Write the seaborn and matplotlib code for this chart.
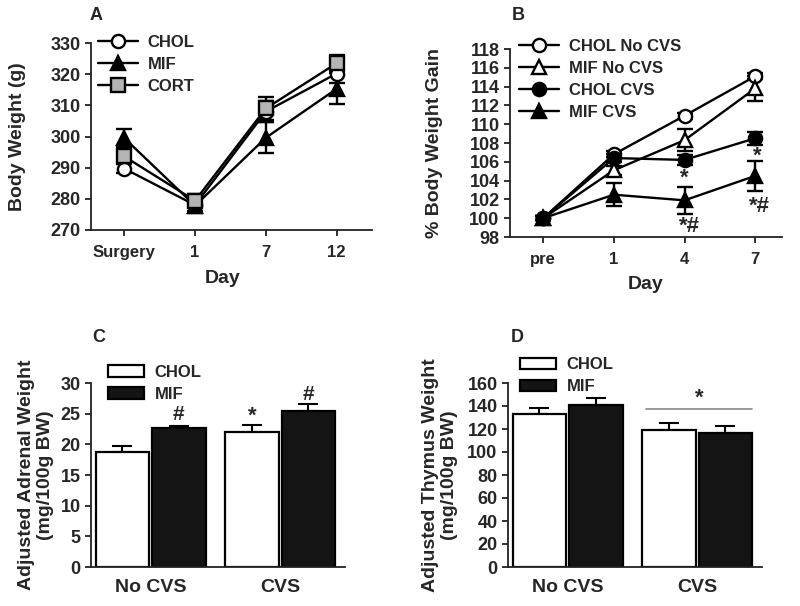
import numpy as np
import pandas as pd
import matplotlib
matplotlib.use("Agg")
import matplotlib.pyplot as plt
import seaborn as sns
from matplotlib.patches import Patch

# ---------------- data ----------------
days_a = ["Surgery", "1", "7", "12"]
chol_a = [289.7, 278.0, 308.0, 320.2]
chol_a_err = [1.5, 2.0, 3.5, 3.0]
mif_a = [299.5, 277.8, 299.6, 315.3]
mif_a_err = [3.0, 2.5, 5.0, 5.0]
cort_a = [293.6, 279.4, 309.0, 323.5]
cort_a_err = [2.0, 2.0, 3.7, 2.7]

days_b = ["pre", "1", "4", "7"]
chol_nocvs_b = [100.0, 106.8, 110.9, 115.1]
chol_nocvs_b_err = [0.2, 0.3, 0.3, 0.3]
mif_nocvs_b = [100.0, 105.1, 108.3, 113.8]
mif_nocvs_b_err = [0.2, 0.5, 1.2, 1.3]
chol_cvs_b = [100.0, 106.4, 106.2, 108.5]
chol_cvs_b_err = [0.2, 0.4, 0.5, 0.7]
mif_cvs_b = [100.0, 102.5, 101.9, 104.5]
mif_cvs_b_err = [0.2, 1.2, 1.4, 1.6]

conds = ["No CVS", "CVS"]
drugs = ["CHOL", "MIF"]
adrenal_chol = [18.8, 22.0]
adrenal_chol_err = [0.9, 1.2]
adrenal_mif = [22.6, 25.4]
adrenal_mif_err = [0.4, 1.1]
thymus_chol = [133.0, 119.5]
thymus_chol_err = [5.0, 5.5]
thymus_mif = [141.0, 116.3]
thymus_mif_err = [6.0, 6.5]

# ---------------- style ----------------
sns.set_style("ticks")
plt.rcParams["font.family"] = ["Liberation Sans", "DejaVu Sans"]
plt.rcParams["font.weight"] = "bold"
plt.rcParams["axes.labelweight"] = "bold"
plt.rcParams["axes.linewidth"] = 1.3
plt.rcParams["axes.edgecolor"] = "#222222"

fig = plt.figure(figsize=(8.0, 6.06), dpi=100)
W, H = 800, 606


def px_axes(l, t, r, b):
    return fig.add_axes([l / W, 1 - b / H, (r - l) / W, (b - t) / H])


axA = px_axes(91, 43, 372, 230)
axB = px_axes(510, 49, 782, 237)
axC = px_axes(91, 383, 345, 567)
axD = px_axes(508, 383, 762, 567)

LW = 1.7
MS = 9.5


def style_axes(ax):
    sns.despine(ax=ax)
    ax.tick_params(axis="both", direction="out", length=4, width=1.3,
                   color="#222222")
    ax.tick_params(axis="x", labelsize=12)
    ax.tick_params(axis="y", labelsize=13)
    for lab in ax.get_xticklabels() + ax.get_yticklabels():
        lab.set_fontweight("bold")


def line_panel(ax, cats, series, errs, styles):
    x = np.arange(len(cats))
    handles = []
    for vals, err, st in zip(series, errs, styles):
        ax.errorbar(x, vals, yerr=err, fmt="none", ecolor="black",
                    elinewidth=LW, capsize=6, capthick=LW, zorder=2)
        sns.lineplot(x=x, y=vals, ax=ax, color="black", lw=LW,
                     marker=st[0], markersize=MS, markerfacecolor=st[1],
                     markeredgecolor="black", markeredgewidth=LW,
                     zorder=3, legend=False)
        handles.append(ax.lines[-1])
    ax.set_xticks(x)
    ax.set_xticklabels(cats)
    return handles


# ---------------- Panel A ----------------
labels_a = ["CHOL", "MIF", "CORT"]
hA = line_panel(axA, days_a, [chol_a, mif_a, cort_a],
                [chol_a_err, mif_a_err, cort_a_err],
                [("o", "white"), ("^", "black"), ("s", "#b4b4b4")])
axA.set_ylim(270, 330)
axA.set_yticks(np.arange(270, 331, 10))
axA.set_xlim(-0.47, 3.5)
style_axes(axA)
axA.tick_params(axis="x", pad=7)
axA.set_xlabel("Day", fontsize=14, va="center")
axA.xaxis.set_label_coords(0.47, -0.262)
axA.set_ylabel("Body Weight (g)", fontsize=14, va="center")
axA.yaxis.set_label_coords(-0.263, 0.5)
axA.legend(hA, labels_a, loc="upper left",
           bbox_to_anchor=(0.0, 1.08), frameon=False, fontsize=12,
           handlelength=2.4, handletextpad=0.6, labelspacing=0.42,
           borderaxespad=0)

# ---------------- Panel B ----------------
labels_b = ["CHOL No CVS", "MIF No CVS", "CHOL CVS", "MIF CVS"]
hB = line_panel(axB, days_b,
                [chol_nocvs_b, mif_nocvs_b, chol_cvs_b, mif_cvs_b],
                [chol_nocvs_b_err, mif_nocvs_b_err, chol_cvs_b_err, mif_cvs_b_err],
                [("o", "white"), ("^", "white"), ("o", "black"), ("^", "black")])
axB.set_ylim(98, 118)
axB.set_yticks(np.arange(98, 119, 2))
axB.set_xlim(-0.47, 3.38)
style_axes(axB)
axB.tick_params(axis="x", pad=7)
axB.set_xlabel("Day", fontsize=14, va="center")
axB.xaxis.set_label_coords(0.5, -0.255)
axB.set_ylabel("% Body Weight Gain", fontsize=14, va="center")
axB.yaxis.set_label_coords(-0.276, 0.5)
axB.legend(hB, labels_b, loc="upper left", bbox_to_anchor=(0.01, 1.09),
           frameon=False, fontsize=12, handlelength=2.4, handletextpad=0.6,
           labelspacing=0.42, borderaxespad=0)
# significance marks
axB.text(2, 104.3, "*", ha="center", va="center", fontsize=16)
axB.text(2.07, 99.1, "*#", ha="center", va="center", fontsize=16)
axB.text(3.03, 106.6, "*", ha="center", va="center", fontsize=16)
axB.text(3.06, 101.2, "*#", ha="center", va="center", fontsize=16)


# ---------------- Bar panels ----------------
def bar_panel(ax, chol, chol_err, mif, mif_err):
    df = pd.DataFrame({
        "cond": conds * 2,
        "drug": [drugs[0]] * len(conds) + [drugs[1]] * len(conds),
        "val": list(chol) + list(mif),
    })
    sns.barplot(data=df, x="cond", y="val", hue="drug", order=conds,
                hue_order=drugs, palette={"CHOL": "white", "MIF": "#141414"},
                edgecolor="black", linewidth=1.6, width=0.87, gap=0.05,
                errorbar=None, legend=False, ax=ax, saturation=1)
    for cont, vals, errs in zip(ax.containers, [chol, mif], [chol_err, mif_err]):
        xs = [b.get_x() + b.get_width() / 2 for b in cont]
        ax.errorbar(xs, vals, yerr=[np.zeros(len(errs)), errs], fmt="none",
                    ecolor="black", elinewidth=1.5, capsize=7, capthick=1.5,
                    zorder=0)
    ax.set_xlim(-0.46, 1.5)
    style_axes(ax)
    ax.tick_params(axis="x", length=0, labelsize=14, pad=9)
    ax.set_xlabel("")
    handles = [Patch(facecolor="white", edgecolor="black", linewidth=1.6),
               Patch(facecolor="#141414", edgecolor="black", linewidth=1.6)]
    return handles


hC = bar_panel(axC, adrenal_chol, adrenal_chol_err, adrenal_mif, adrenal_mif_err)
axC.set_ylim(0, 30)
axC.set_yticks(np.arange(0, 31, 5))
axC.set_ylabel("Adjusted Adrenal Weight\n(mg/100g BW)", fontsize=14,
               va="center", linespacing=1.1)
axC.yaxis.set_label_coords(-0.217, 0.5)
axC.legend(hC, drugs, loc="upper left", bbox_to_anchor=(0.04, 1.135),
           frameon=False, fontsize=12, handlelength=2.2, handleheight=0.7,
           handletextpad=0.6, labelspacing=0.42, borderaxespad=0)
cC = axC.containers
axC.text(cC[1][0].get_x() + cC[1][0].get_width() / 2, 24.9, "#",
         ha="center", va="center", fontsize=15)
axC.text(cC[0][1].get_x() + cC[0][1].get_width() / 2, 24.6, "*",
         ha="center", va="center", fontsize=16)
axC.text(cC[1][1].get_x() + cC[1][1].get_width() / 2, 28.1, "#",
         ha="center", va="center", fontsize=15)

hD = bar_panel(axD, thymus_chol, thymus_chol_err, thymus_mif, thymus_mif_err)
axD.set_ylim(0, 160)
axD.set_yticks(np.arange(0, 161, 20))
axD.set_ylabel("Adjusted Thymus Weight\n(mg/100g BW)", fontsize=14,
               va="center", linespacing=1.1)
axD.yaxis.set_label_coords(-0.268, 0.5)
axD.legend(hD, drugs, loc="upper left", bbox_to_anchor=(0.02, 1.175),
           frameon=False, fontsize=12, handlelength=2.2, handleheight=0.7,
           handletextpad=0.6, labelspacing=0.42, borderaxespad=0)
cD = axD.containers
x0 = cD[0][1].get_x() + 0.03
x1 = cD[1][1].get_x() + cD[1][1].get_width()
axD.plot([x0, x1], [137, 137], color="#888888", lw=1.2)
axD.text((x0 + x1) / 2, 147, "*", ha="center", va="center", fontsize=16)

# panel letters
for lab, (px, py) in zip("ABCD", [(90, 16), (512, 16), (92, 337), (511, 337)]):
    fig.text(px / W, 1 - py / H, lab, ha="left", va="center", fontsize=13,
             fontweight="bold")

fig.savefig("out.png", dpi=100)
